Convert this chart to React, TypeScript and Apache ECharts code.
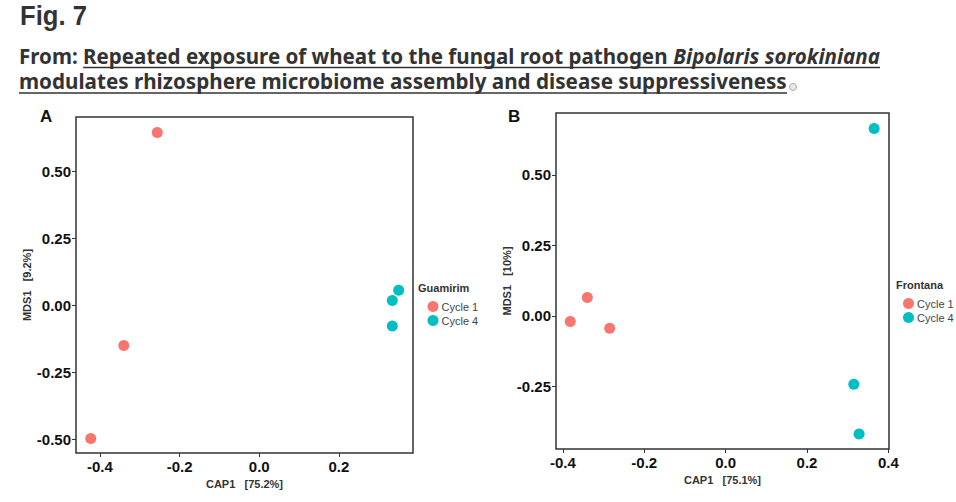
import React, { useEffect, useRef } from "react";
import * as echarts from "echarts";

// ---------- data ----------
const seriesNames = ["Cycle 1", "Cycle 4"];
// Panel A (Guamirim): [CAP1, MDS1]
const guamirimCycle1: number[][] = [
  [-0.256, 0.646],
  [-0.34, -0.149],
  [-0.423, -0.496],
];
const guamirimCycle4: number[][] = [
  [0.35, 0.057],
  [0.334, 0.019],
  [0.334, -0.076],
];
// Panel B (Frontana)
const frontanaCycle1: number[][] = [
  [-0.382, -0.02],
  [-0.34, 0.065],
  [-0.285, -0.044],
];
const frontanaCycle4: number[][] = [
  [0.365, 0.665],
  [0.315, -0.243],
  [0.328, -0.42],
];
const xTicksA = [-0.4, -0.2, 0.0, 0.2];
const yTicksA = [-0.5, -0.25, 0.0, 0.25, 0.5];
const xTicksB = [-0.4, -0.2, 0.0, 0.2, 0.4];
const yTicksB = [-0.25, 0.0, 0.25, 0.5];

const COLORS = ["#F8766D", "#00BFC4"];
const AXFONT = '"Liberation Sans", Arial, sans-serif';
const HFONT = '"Noto Sans", sans-serif';
const FIGFONT = '"Liberation Sans", Arial, sans-serif';

function measure(text: string, font: string): number {
  const c = document.createElement("canvas").getContext("2d");
  if (!c) return text.length * 10;
  c.font = font;
  return c.measureText(text).width;
}

export default function App() {
  const ref = useRef<HTMLDivElement>(null);
  useEffect(() => {
    if (!ref.current) return;
    const chart = echarts.init(ref.current, undefined, { renderer: "svg" });

    // header measurements
    const figFont = `bold 27px ${FIGFONT}`;
    const figW = measure("Fig. 7", figFont);
    const sFig = 67 / figW;

    const l1Font = `bold 21px ${HFONT}`;
    const l1FontI = `italic bold 21px ${HFONT}`;
    const p1 = "From: ";
    const p2 = "Repeated exposure of wheat to the fungal root pathogen ";
    const p3 = "Bipolaris sorokiniana";
    const w1 = measure(p1, l1Font);
    const w2 = measure(p2, l1Font);
    const w3 = measure(p3, l1FontI);
    const s1 = (880 - 19) / (w1 + w2 + w3);
    const l2 = "modulates rhizosphere microbiome assembly and disease suppressiveness";
    const wl2 = measure(l2, l1Font);
    const s2 = (787 - 19) / wl2;

    const hText = (text: string, x: number, y: number, font: string, sx: number) => ({
      type: "text",
      x,
      y,
      scaleX: sx,
      style: {
        text,
        font,
        fill: "#333",
        textAlign: "left",
        align: "left",
        textVerticalAlign: "middle",
        verticalAlign: "middle",
      },
    });

    const axisCommon = (ticks: number[], digits: number, margin: number) => ({
      axisLine: { show: false, onZero: false },
      splitLine: { show: false },
      axisTick: {
        show: true,
        length: 4,
        customValues: ticks,
        lineStyle: { color: "#333", width: 1 },
      },
      axisLabel: {
        customValues: ticks,
        formatter: (v: number) => v.toFixed(digits),
        fontFamily: AXFONT,
        fontWeight: "bold",
        fontSize: 15,
        color: "#111",
        margin,
      },
      nameTextStyle: {
        fontFamily: AXFONT,
        fontWeight: "bold",
        fontSize: 11,
        color: "#333",
      },
    });

    const scatter = (name: string, data: number[][], idx: number, color: string) => ({
      type: "scatter",
      name,
      data,
      xAxisIndex: idx,
      yAxisIndex: idx,
      symbol: "circle",
      symbolSize: 11,
      itemStyle: { color, opacity: 1 },
    });

    const legendCommon = {
      data: seriesNames,
      orient: "vertical",
      padding: 0,
      icon: "circle",
      itemWidth: 11,
      itemHeight: 11,
      itemGap: 3,
      itemStyle: { borderWidth: 0 },
      selectedMode: false,
      textStyle: { fontFamily: AXFONT, fontSize: 11, color: "#444", padding: [0, 0, 0, -2] },
    };

    const letter = (t: string, x: number) => ({
      type: "text",
      x,
      y: 116,
      style: {
        text: t,
        font: `bold 17px ${AXFONT}`,
        fill: "#111",
        textVerticalAlign: "middle",
        verticalAlign: "middle",
      },
    });

    const legendTitle = (t: string, x: number, y: number) => ({
      type: "text",
      x,
      y,
      style: {
        text: t,
        font: `bold 11px ${AXFONT}`,
        fill: "#333",
        textVerticalAlign: "middle",
        verticalAlign: "middle",
      },
    });

    chart.setOption({
      animation: false,
      backgroundColor: "#fff",
      grid: [
        {
          left: 76,
          top: 117,
          width: 413 - 76,
          height: 453 - 117,
          show: true,
          borderColor: "#333",
          borderWidth: 1.5,
          backgroundColor: "transparent",
        },
        {
          left: 556,
          top: 113,
          width: 889 - 556,
          height: 449 - 113,
          show: true,
          borderColor: "#333",
          borderWidth: 1.5,
          backgroundColor: "transparent",
        },
      ],
      xAxis: [
        {
          type: "value",
          gridIndex: 0,
          min: -0.46,
          max: 0.386,
          name: "CAP1   [75.2%]",
          nameLocation: "middle",
          nameGap: 23,
          ...axisCommon(xTicksA, 1, 6),
        },
        {
          type: "value",
          gridIndex: 1,
          min: -0.417,
          max: 0.4015,
          name: "CAP1   [75.1%]",
          nameLocation: "middle",
          nameGap: 23,
          ...axisCommon(xTicksB, 1, 6),
        },
      ],
      yAxis: [
        {
          type: "value",
          gridIndex: 0,
          min: -0.55,
          max: 0.704,
          name: "MDS1   [9.2%]",
          nameLocation: "middle",
          nameRotate: 90,
          nameGap: 44,
          ...axisCommon(yTicksA, 2, 5),
        },
        {
          type: "value",
          gridIndex: 1,
          min: -0.473,
          max: 0.72,
          name: "MDS1   [10%]",
          nameLocation: "middle",
          nameRotate: 90,
          nameGap: 43,
          ...axisCommon(yTicksB, 2, 5),
        },
      ],
      legend: [
        { ...legendCommon, left: 427.5, top: 301 },
        { ...legendCommon, left: 903, top: 298 },
      ],
      series: [
        scatter(seriesNames[0], guamirimCycle1, 0, COLORS[0]),
        scatter(seriesNames[1], guamirimCycle4, 0, COLORS[1]),
        scatter(seriesNames[0], frontanaCycle1, 1, COLORS[0]),
        scatter(seriesNames[1], frontanaCycle4, 1, COLORS[1]),
      ],
      graphic: [
        hText("Fig. 7", 20, 15.5, figFont, sFig),
        hText(p1, 19, 56, l1Font, s1),
        hText(p2, 19 + w1 * s1, 56, l1Font, s1),
        hText(p3, 19 + (w1 + w2) * s1, 56, l1FontI, s1),
        {
          type: "line",
          shape: { x1: 19 + w1 * s1, y1: 67.5, x2: 880, y2: 67.5 },
          style: { stroke: "#333", lineWidth: 1.6 },
        },
        hText(l2, 19, 81, l1Font, s2),
        {
          type: "line",
          shape: { x1: 19, y1: 93, x2: 787, y2: 93 },
          style: { stroke: "#333", lineWidth: 1.6 },
        },
        {
          type: "circle",
          shape: { cx: 793, cy: 87, r: 3.5 },
          style: { fill: "#e8e8e8", stroke: "#aaa", lineWidth: 1 },
        },
        letter("A", 40),
        letter("B", 508),
        legendTitle("Guamirim", 418, 288),
        legendTitle("Frontana", 896, 285),
      ],
    });
    return () => chart.dispose();
  }, []);
  return (
    <div
      ref={ref}
      style={{ position: "fixed", left: 0, top: 0, width: 956, height: 502, background: "#fff" }}
    />
  );
}
